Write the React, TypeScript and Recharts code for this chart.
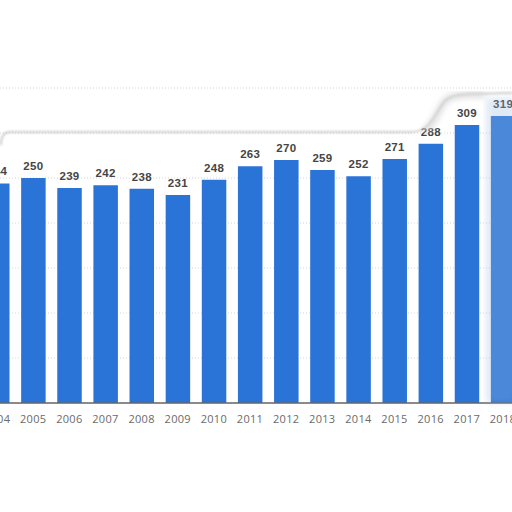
import { BarChart, Bar, XAxis, YAxis, CartesianGrid, LabelList } from 'recharts';

const years = ['2004', '2005', '2006', '2007', '2008', '2009', '2010', '2011', '2012', '2013', '2014', '2015', '2016', '2017', '2018'];
const values = [244, 250, 239, 242, 238, 231, 248, 263, 270, 259, 252, 271, 288, 309, 319];
const yTicks = [0, 50, 100, 150, 200, 250, 300];

const data = years.map((year, i) => ({ year, value: values[i] }));

export default function App() {
  return (
    <div style={{ position: 'absolute', left: 0, top: 0, width: 512, height: 512, overflow: 'hidden', background: '#fff' }}>
      <div style={{ position: 'absolute', left: -21, top: 0 }}>
        <BarChart width={542} height={440} data={data} barSize={24.5}
          margin={{ top: 88, right: 0, bottom: 7, left: 0 }}>
          <CartesianGrid vertical={false} stroke="#d4d4d4" strokeDasharray="1 2" />
          <YAxis hide domain={[0, 350]} ticks={yTicks} />
          <XAxis dataKey="year" height={30} tickLine={false} tickMargin={6}
            axisLine={{ stroke: '#666', strokeWidth: 1.5 }}
            tick={{ fill: '#6a6a6a', fontSize: 11, fontFamily: 'Open Sans', letterSpacing: 0.3 }} />
          <Bar dataKey="value" fill="#2a74d8" isAnimationActive={false}>
            <LabelList dataKey="value" position="top" offset={8}
              style={{ fill: '#454545', fontSize: 11.5, fontWeight: 700, fontFamily: 'Liberation Sans', letterSpacing: 0.3 }} />
          </Bar>
        </BarChart>
      </div>
      <svg width={512} height={512} style={{ position: 'absolute', left: 0, top: 0, pointerEvents: 'none' }}>
        <defs>
          <filter id="soft" x="-10%" y="-10%" width="120%" height="120%">
            <feGaussianBlur stdDeviation="1" />
          </filter>
          <filter id="softer" x="-10%" y="-10%" width="120%" height="120%">
            <feGaussianBlur stdDeviation="3" />
          </filter>
        </defs>
        <path d="M 1 145 Q 1 132 10 132 L 410 132 C 428 132 432 120 440 108 C 446 97 452 95 470 94 L 512 93"
          fill="none" stroke="#c0c0c0" strokeWidth={1.6} filter="url(#soft)" />
        <path d="M 425 130 C 435 124 438 110 445 101 C 450 96 460 94 485 95"
          fill="none" stroke="#d6d6d6" strokeWidth={5} filter="url(#softer)" />
        <path d="M 0 429 L 512 429" fill="none" stroke="#cccccc" strokeWidth={2.5} filter="url(#softer)" />
        <rect x={486} y={98} width={30} height={305} fill="#9ab8de" opacity={0.3} filter="url(#softer)" />
      </svg>
    </div>
  );
}
